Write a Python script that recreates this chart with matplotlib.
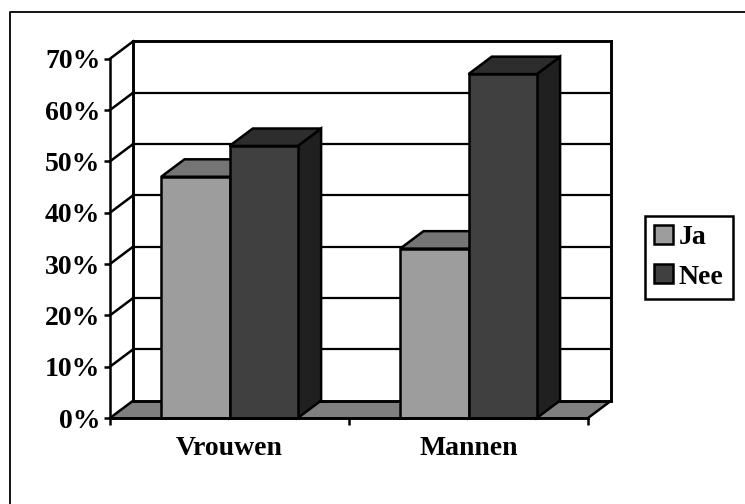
import matplotlib
matplotlib.use("Agg")
import matplotlib.pyplot as plt
from matplotlib.lines import Line2D
from matplotlib.patches import Patch, Polygon

# ------------------------------------------------------------
# DATA
# ------------------------------------------------------------

categories = ["Vrouwen", "Mannen"]
series_names = ["Ja", "Nee"]
ja_values = [47, 33]
nee_values = [53, 67]
y_ticks = [0, 10, 20, 30, 40, 50, 60, 70]
y_tick_labels = ["0%", "10%", "20%", "30%", "40%", "50%", "60%", "70%"]

# ------------------------------------------------------------
# STYLE
# ------------------------------------------------------------

W, H = 745, 504
FONT = 20
LW = 1.8

# depth of the fake 3D box, in data units
DEPTH_X = 23.3 / 239
DEPTH_Y = 3.4
BAR_W = 68.3 / 239

JA_COLORS = ("#9d9d9d", "#757575", "#606060")   # front, top, side
NEE_COLORS = ("#404040", "#2d2d2d", "#202020")
FLOOR = "#808080"

plt.rcParams["font.family"] = ["Liberation Serif", "DejaVu Serif"]
plt.rcParams["font.weight"] = "bold"

fig = plt.figure(figsize=(W / 100, H / 100), dpi=100)
ax = fig.add_axes([110 / W, 1 - 418 / H, 478 / W, 359.3 / H])
ax.set_xlim(0, 2)
ax.set_ylim(0, 70)
for s in ax.spines.values():
    s.set_visible(False)


def seg(x0, y0, x1, y1, lw=LW, z=2):
    ax.add_line(Line2D([x0, x1], [y0, y1], color="black", lw=lw, zorder=z,
                       clip_on=False, solid_capstyle="projecting"))


def bar3d(x, value, colors, z):
    front, top, side = colors
    x1 = x + BAR_W
    poly = dict(edgecolor="black", lw=LW, zorder=z, clip_on=False, joinstyle="miter")
    ax.add_patch(Polygon([(x1, 0), (x1 + DEPTH_X, DEPTH_Y), (x1 + DEPTH_X, value + DEPTH_Y), (x1, value)],
                         facecolor=side, **poly))
    ax.add_patch(Polygon([(x, value), (x1, value), (x1 + DEPTH_X, value + DEPTH_Y), (x + DEPTH_X, value + DEPTH_Y)],
                         facecolor=top, **poly))
    ax.add_patch(Polygon([(x, 0), (x1, 0), (x1, value), (x, value)],
                         facecolor=front, **poly))


# ------------------------------------------------------------
# BOX: floor, walls and gridlines
# ------------------------------------------------------------

ax.add_patch(Polygon([(0, 0), (2, 0), (2 + DEPTH_X, DEPTH_Y), (DEPTH_X, DEPTH_Y)],
                     facecolor=FLOOR, edgecolor="none", zorder=1, clip_on=False))

for t in y_ticks:
    seg(0, t, DEPTH_X, t + DEPTH_Y)
    seg(DEPTH_X, t + DEPTH_Y, 2 + DEPTH_X, t + DEPTH_Y, lw=2.1 if t in (0, 70) else 1.6)

seg(0, 0, 0, 70)
seg(DEPTH_X, DEPTH_Y, DEPTH_X, 70 + DEPTH_Y, lw=2.1)
seg(2 + DEPTH_X, DEPTH_Y, 2 + DEPTH_X, 70 + DEPTH_Y, lw=2.1)
seg(2, 0, 2 + DEPTH_X, DEPTH_Y)

# ------------------------------------------------------------
# BARS
# ------------------------------------------------------------

for i in range(len(categories)):
    start = i + 0.5 - BAR_W
    bar3d(start, ja_values[i], JA_COLORS, 3 + 2 * i)
    bar3d(start + BAR_W, nee_values[i], NEE_COLORS, 4 + 2 * i)

seg(0, 0, 2, 0, lw=2.1, z=10)

# ------------------------------------------------------------
# AXES TEXT
# ------------------------------------------------------------

ax.set_yticks(y_ticks)
ax.set_yticklabels(y_tick_labels, fontsize=FONT, fontweight="bold")
ax.tick_params(axis="y", length=4.5, width=LW, pad=2.5)

ax.set_xticks([0, 1, 2])
ax.set_xticklabels([])
ax.set_xticks([0.5, 1.5], minor=True)
ax.set_xticklabels(categories, minor=True, fontsize=FONT, fontweight="bold")
ax.tick_params(axis="x", which="major", length=5, width=LW)
ax.tick_params(axis="x", which="minor", length=0, pad=13)

# ------------------------------------------------------------
# LEGEND
# ------------------------------------------------------------

handles = [Patch(facecolor=JA_COLORS[0], edgecolor="black", lw=LW, label=series_names[0]),
           Patch(facecolor=NEE_COLORS[0], edgecolor="black", lw=LW, label=series_names[1])]
leg = fig.legend(handles=handles, loc="upper left",
                 bbox_to_anchor=(645 / W, 1 - 216 / H), borderaxespad=0,
                 fontsize=FONT, frameon=True, fancybox=False, framealpha=1,
                 edgecolor="black", handlelength=0.68, handleheight=0.68,
                 handletextpad=0.2, labelspacing=0.5, borderpad=0.33)
leg.get_frame().set_linewidth(LW)

# chart frame runs off the right and bottom edge of the image
fig.add_artist(Line2D([9.5 / W, 9.5 / W, 1], [0, 1 - 12 / H, 1 - 12 / H],
                      color="black", lw=1.3, transform=fig.transFigure))

fig.savefig("out.png", dpi=100)
